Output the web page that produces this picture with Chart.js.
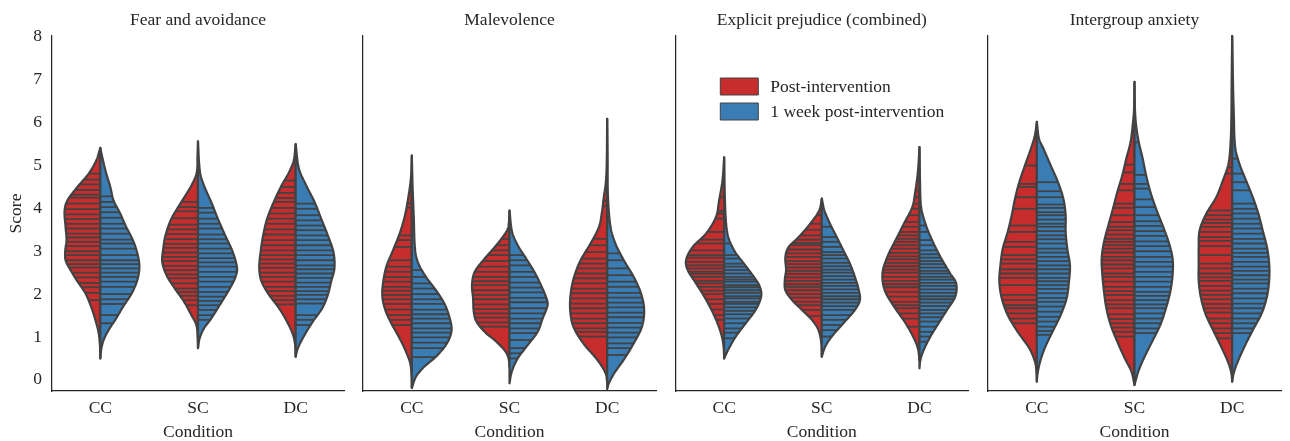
<!DOCTYPE html>
<html>
<head>
<meta charset="utf-8">
<script src="https://cdn.jsdelivr.net/npm/chart.js@4/dist/chart.umd.min.js"></script>
<style>
  body { margin: 0; background: #fff; }
  #wrap { position: relative; width: 1290px; height: 441px; }
  #wrap canvas { position: absolute; left: 0; top: 0; }
</style>
</head>
<body>
<div id="wrap">
  <canvas id="p0" width="1290" height="441"></canvas>
  <canvas id="p1" width="1290" height="441"></canvas>
  <canvas id="p2" width="1290" height="441"></canvas>
  <canvas id="p3" width="1290" height="441"></canvas>
</div>
<script>
let panelTitles = ['Fear and avoidance', 'Malevolence', 'Explicit prejudice (combined)', 'Intergroup anxiety']
let conditions = ['CC', 'SC', 'DC']
let seriesNames = ['Post-intervention', '1 week post-intervention']
let yTicks = [0, 1, 2, 3, 4, 5, 6, 7, 8]

// violin outlines: [score, half width in category units], one list per condition
let fearPostShape = [
  [[5.41,0],[5.12,0.041],[4.81,0.119],[4.5,0.234],[4.19,0.336],[3.95,0.366],[3.57,0.356],[3.26,0.346],[3.02,0.359],[2.79,0.356],[2.56,0.305],[2.33,0.244],[2.02,0.153],[1.71,0.095],[1.4,0.051],[1.09,0.017],[0.8,0.004],[0.5,0]],
  [[5.56,0],[5.2,0.005],[4.84,0.012],[4.53,0.068],[4.15,0.17],[3.76,0.272],[3.37,0.333],[3.06,0.356],[2.75,0.366],[2.44,0.322],[2.13,0.237],[1.82,0.142],[1.51,0.068],[1.28,0.017],[1.0,0.004],[0.74,0]],
  [[5.5,0],[5.12,0.02],[4.84,0.068],[4.53,0.145],[4.15,0.224],[3.76,0.292],[3.37,0.333],[2.98,0.359],[2.6,0.373],[2.29,0.349],[1.98,0.272],[1.67,0.17],[1.36,0.089],[1.05,0.027],[0.8,0.005],[0.54,0]]
]
let fearWeekShape = [
  [[5.41,0],[5.12,0.027],[4.81,0.061],[4.5,0.102],[4.19,0.135],[3.88,0.203],[3.57,0.264],[3.26,0.333],[2.95,0.379],[2.64,0.4],[2.33,0.379],[2.02,0.322],[1.71,0.234],[1.4,0.153],[1.16,0.084],[0.93,0.034],[0.7,0.008],[0.5,0]],
  [[5.56,0],[5.1,0.01],[4.77,0.027],[4.46,0.074],[4.15,0.135],[3.76,0.203],[3.37,0.278],[2.98,0.356],[2.6,0.4],[2.37,0.379],[2.05,0.305],[1.74,0.221],[1.43,0.135],[1.2,0.061],[0.97,0.017],[0.74,0]],
  [[5.5,0],[4.92,0.034],[4.53,0.109],[4.15,0.193],[3.76,0.261],[3.37,0.329],[2.98,0.387],[2.6,0.397],[2.29,0.363],[1.98,0.329],[1.67,0.272],[1.36,0.176],[1.05,0.092],[0.74,0.023],[0.54,0]]
]
let fearPostSticks = [
  [4.81,4.67,4.56,4.43,4.32,4.25,4.11,3.98,3.86,3.75,3.64,3.53,3.41,3.32,3.22,3.12,3.0,2.91,2.79,2.7,2.62,2.5,2.39,2.26,2.16,2.03,1.86],
  [4.15,4.03,3.93,3.77,3.62,3.51,3.4,3.28,3.17,3.08,2.97,2.87,2.77,2.66,2.56,2.46,2.37,2.25,2.13,2.05,1.96,1.86,1.74],
  [4.65,4.5,4.36,4.24,4.15,4.01,3.88,3.76,3.64,3.51,3.39,3.26,3.14,3.02,2.91,2.81,2.71,2.61,2.5,2.4,2.29,2.17,2.07,1.96,1.86,1.76]
]
let fearWeekSticks = [
  [4.28,4.15,4.03,3.91,3.78,3.64,3.53,3.41,3.27,3.18,3.06,2.91,2.79,2.7,2.6,2.5,2.4,2.29,2.17,2.0,1.88,1.77,1.51,1.32],
  [4.01,3.9,3.76,3.64,3.53,3.39,3.28,3.18,3.06,2.95,2.84,2.74,2.64,2.52,2.4,2.29,2.17,2.05,1.94,1.84,1.74,1.63,1.51,1.4],
  [4.11,3.99,3.84,3.72,3.6,3.49,3.37,3.26,3.14,3.02,2.91,2.79,2.67,2.58,2.48,2.38,2.27,2.17,2.07,1.98,1.88,1.78,1.51,1.4,1.28]
]

let malPostShape = [
  [[5.23,0],[4.69,0.01],[4.19,0.041],[3.8,0.074],[3.41,0.125],[3.02,0.193],[2.64,0.261],[2.25,0.295],[1.94,0.302],[1.63,0.272],[1.32,0.211],[1.01,0.135],[0.7,0.068],[0.39,0.017],[0.1,0.003],[-0.19,0]],
  [[3.95,0],[3.6,0.01],[3.45,0.034],[3.14,0.135],[2.83,0.254],[2.52,0.356],[2.21,0.384],[1.9,0.373],[1.59,0.366],[1.36,0.339],[1.12,0.254],[0.89,0.135],[0.66,0.041],[0.5,0.01],[0.3,0]],
  [[6.09,0],[5.0,0.005],[4.57,0.015],[4.26,0.035],[3.95,0.051],[3.57,0.084],[3.18,0.17],[2.79,0.272],[2.4,0.339],[2.02,0.373],[1.63,0.379],[1.24,0.346],[0.85,0.244],[0.47,0.102],[0.16,0.017],[-0.05,0]]
]
let malWeekShape = [
  [[5.23,0],[4.5,0.008],[3.8,0.02],[3.02,0.034],[2.71,0.068],[2.4,0.145],[2.09,0.247],[1.78,0.333],[1.47,0.384],[1.16,0.407],[0.85,0.359],[0.54,0.247],[0.31,0.129],[0.08,0.044],[-0.19,0]],
  [[3.95,0],[3.45,0.027],[3.14,0.084],[2.83,0.17],[2.52,0.254],[2.21,0.322],[1.9,0.379],[1.74,0.39],[1.43,0.339],[1.12,0.288],[0.81,0.186],[0.5,0.084],[0.19,0.023],[-0.08,0]],
  [[6.09,0],[5.2,0.004],[4.34,0.007],[3.57,0.034],[3.18,0.084],[2.79,0.17],[2.4,0.272],[2.02,0.346],[1.63,0.379],[1.24,0.356],[0.85,0.272],[0.47,0.17],[0.16,0.074],[-0.08,0.017],[-0.22,0]]
]
let malPostSticks = [
  [4.38,4.12,4.02,3.37,3.26,3.1,2.79,2.64,2.52,2.4,2.29,2.17,2.08,1.98,1.88,1.77,1.64,1.51,1.4,1.28],
  [3.29,3.14,3.02,2.91,2.77,2.64,2.52,2.4,2.3,2.21,2.09,1.98,1.88,1.76,1.65,1.55,1.45,1.34,1.24],
  [4.17,4.05,3.29,3.14,2.98,2.83,2.71,2.6,2.48,2.37,2.25,2.13,2.02,1.9,1.78,1.67,1.55,1.43,1.32,1.2,1.12,1.01]
]
let malWeekSticks = [
  [2.56,2.4,2.25,2.13,2.0,1.88,1.77,1.64,1.53,1.43,1.32,1.2,1.1,0.99,0.87,0.74,0.53],
  [2.91,2.79,2.67,2.52,2.4,2.27,2.15,2.04,1.91,1.81,1.67,1.55,1.43,1.32,1.2,1.09,0.93,0.74,0.62,0.5],
  [3.68,2.95,2.79,2.6,2.44,2.29,2.17,2.03,1.92,1.8,1.69,1.57,1.46,1.33,1.22,1.1,0.99,0.85,0.74,0.58]
]

let explPostShape = [
  [[5.19,0],[4.65,0.017],[4.19,0.051],[3.8,0.084],[3.41,0.186],[3.1,0.322],[2.79,0.39],[2.56,0.373],[2.25,0.288],[1.94,0.203],[1.63,0.129],[1.32,0.068],[1.01,0.023],[0.75,0.005],[0.5,0]],
  [[4.23,0],[3.95,0.027],[3.64,0.119],[3.33,0.237],[3.1,0.339],[2.87,0.373],[2.56,0.366],[2.33,0.379],[2.09,0.373],[1.86,0.305],[1.63,0.203],[1.4,0.102],[1.16,0.034],[0.85,0.005],[0.54,0]],
  [[5.43,0],[4.88,0.015],[4.42,0.041],[4.03,0.074],[3.64,0.16],[3.26,0.244],[2.87,0.329],[2.48,0.379],[2.09,0.356],[1.71,0.261],[1.32,0.142],[0.93,0.048],[0.7,0.013],[0.45,0]]
]
let explWeekShape = [
  [[5.19,0],[4.2,0.008],[3.41,0.034],[3.02,0.102],[2.71,0.203],[2.4,0.305],[2.17,0.366],[1.94,0.379],[1.63,0.322],[1.32,0.221],[1.01,0.119],[0.7,0.041],[0.5,0]],
  [[4.23,0],[3.95,0.027],[3.64,0.084],[3.33,0.153],[3.02,0.221],[2.71,0.288],[2.4,0.339],[2.09,0.379],[1.86,0.39],[1.63,0.339],[1.32,0.221],[1.01,0.102],[0.77,0.034],[0.54,0]],
  [[5.43,0],[4.6,0.006],[4.03,0.017],[3.64,0.061],[3.26,0.129],[2.87,0.214],[2.48,0.315],[2.25,0.376],[1.94,0.366],[1.63,0.282],[1.32,0.196],[1.01,0.112],[0.7,0.044],[0.47,0.01],[0.27,0]]
]
let explPostSticks = [
  [4.61,4.26,3.94,3.88,3.76,3.45,3.27,3.18,3.02,2.91,2.85,2.75,2.67,2.6,2.52,2.47,2.4,2.31,2.25,2.17,2.08,2.0,1.88,1.77,1.64,1.51,1.4],
  [3.84,3.64,3.5,3.37,3.27,3.19,3.14,3.04,2.95,2.87,2.77,2.7,2.62,2.54,2.47,2.39,2.31,2.23,2.17,2.09,2.0,1.92,1.82,1.74,1.63,1.49],
  [4.42,4.26,4.11,3.99,3.84,3.68,3.57,3.45,3.37,3.29,3.22,3.14,3.06,2.96,2.88,2.81,2.73,2.65,2.57,2.5,2.4,2.31,2.23,2.16,2.05,1.94,1.82,1.74,1.67,1.55,1.43,1.24]
]
let explWeekSticks = [
  [3.18,2.91,2.83,2.71,2.64,2.56,2.48,2.4,2.34,2.29,2.21,2.16,2.09,2.03,1.95,1.9,1.82,1.77,1.69,1.61,1.53,1.43,1.32,1.2,1.1,0.97],
  [3.57,3.33,3.22,3.1,2.98,2.91,2.83,2.73,2.65,2.57,2.5,2.42,2.34,2.26,2.19,2.11,2.03,1.95,1.88,1.8,1.72,1.63,1.51,1.4,1.28,1.16,1.01],
  [3.6,3.45,3.26,3.14,3.02,2.93,2.85,2.77,2.7,2.62,2.54,2.48,2.4,2.34,2.26,2.19,2.11,2.03,1.95,1.88,1.8,1.72,1.63,1.55,1.46,1.36,1.24,1.12,1.01,0.89]
]

let anxPostShape = [
  [[6.02,0],[5.7,0.02],[5.39,0.061],[5.0,0.122],[4.61,0.18],[4.22,0.224],[3.84,0.257],[3.45,0.298],[3.06,0.349],[2.67,0.373],[2.29,0.384],[1.9,0.359],[1.51,0.298],[1.12,0.196],[0.74,0.078],[0.43,0.02],[0.2,0.004],[-0.04,0]],
  [[6.95,0],[6.3,0.005],[6.01,0.015],[5.54,0.041],[5.16,0.084],[4.77,0.125],[4.38,0.176],[3.99,0.221],[3.6,0.268],[3.22,0.312],[2.83,0.336],[2.44,0.329],[2.05,0.312],[1.67,0.288],[1.28,0.244],[0.89,0.176],[0.5,0.099],[0.19,0.031],[-0.12,0]],
  [[8.02,0],[7.0,0.005],[6.2,0.008],[5.58,0.015],[5.04,0.038],[4.65,0.095],[4.26,0.163],[3.88,0.264],[3.49,0.333],[3.1,0.343],[2.71,0.343],[2.33,0.343],[1.94,0.322],[1.55,0.275],[1.16,0.196],[0.77,0.112],[0.39,0.038],[0.15,0.008],[-0.04,0]]
]
let anxWeekShape = [
  [[6.02,0],[5.62,0.023],[5.39,0.068],[5.0,0.142],[4.61,0.217],[4.22,0.272],[3.84,0.295],[3.45,0.295],[3.06,0.312],[2.67,0.339],[2.29,0.329],[1.9,0.305],[1.51,0.244],[1.12,0.16],[0.74,0.081],[0.43,0.034],[0.15,0.008],[-0.04,0]],
  [[6.95,0],[6.3,0.005],[5.93,0.017],[5.54,0.044],[5.16,0.084],[4.77,0.119],[4.38,0.163],[3.99,0.221],[3.6,0.288],[3.22,0.349],[2.83,0.39],[2.44,0.39],[2.05,0.366],[1.67,0.322],[1.28,0.264],[0.89,0.18],[0.5,0.095],[0.19,0.038],[-0.12,0]],
  [[8.02,0],[7.0,0.008],[6.2,0.017],[5.43,0.031],[5.04,0.074],[4.65,0.142],[4.26,0.211],[3.88,0.268],[3.49,0.312],[3.1,0.356],[2.71,0.379],[2.33,0.379],[1.94,0.356],[1.55,0.302],[1.16,0.211],[0.77,0.125],[0.39,0.051],[0.15,0.015],[-0.04,0]]
]
let anxPostSticks = [
  [5.0,4.57,4.5,4.26,3.99,3.6,3.45,3.22,3.1,2.91,2.81,2.71,2.58,2.48,2.38,2.21,1.98,1.86,1.74,1.67,1.55,1.43,1.32],
  [5.02,4.84,4.57,4.42,4.11,4.01,3.84,3.68,3.57,3.49,3.39,3.29,3.22,3.14,3.06,2.97,2.87,2.79,2.69,2.6,2.48,2.4,2.29,2.17,2.07,1.98,1.86,1.76,1.67,1.53,1.42,1.32,1.22,1.12,1.01],
  [4.96,4.81,3.95,3.84,3.74,3.66,3.57,3.45,3.33,3.24,3.12,2.91,2.71,2.6,2.48,2.39,2.31,2.19,2.08,1.98,1.88,1.77,1.67,1.57,1.43,1.32,1.2,1.09,0.97]
]
let anxWeekSticks = [
  [4.61,4.4,4.26,4.09,4.01,3.91,3.84,3.74,3.64,3.57,3.47,3.37,3.28,3.18,3.06,2.97,2.87,2.77,2.67,2.58,2.48,2.38,2.3,2.21,2.12,2.02,1.91,1.82,1.71,1.59,1.47,1.36,1.24,1.14,1.05],
  [5.54,4.78,4.57,4.46,4.21,4.03,3.84,3.7,3.59,3.47,3.36,3.23,3.12,3.0,2.87,2.75,2.64,2.52,2.4,2.29,2.17,2.05,1.96,1.86,1.76,1.67,1.55,1.43,1.32,1.2,1.09],
  [5.16,4.81,4.61,4.42,4.11,3.99,3.88,3.76,3.64,3.53,3.41,3.29,3.18,3.06,2.96,2.87,2.75,2.64,2.54,2.44,2.34,2.25,2.13,2.02,1.9,1.78,1.67,1.55,1.43,1.32,1.2,1.09]
]

let postColor = '#c82d2e'
let weekColor = '#3a7db5'
let edgeColor = '#424242'
let textColor = '#262626'
let serif = "'Liberation Serif', 'DejaVu Serif', serif"

let panels = [
  {shapes: [fearPostShape, fearWeekShape], sticks: [fearPostSticks, fearWeekSticks]},
  {shapes: [malPostShape, malWeekShape], sticks: [malPostSticks, malWeekSticks]},
  {shapes: [explPostShape, explWeekShape], sticks: [explPostSticks, explWeekSticks]},
  {shapes: [anxPostShape, anxWeekShape], sticks: [anxPostSticks, anxWeekSticks]}
]

let plotLeft = [51.5, 363, 675.3, 988]
let plotWidth = 293

// smooth a sparse outline (cubic Hermite in score)
function densify(shape) {
  let p = shape.slice().sort((a, b) => b[0] - a[0])
  let slope = i => {
    let a = p[Math.max(i - 1, 0)], b = p[Math.min(i + 1, p.length - 1)]
    return (b[1] - a[1]) / (b[0] - a[0])
  }
  let out = []
  for (let i = 0; i < p.length - 1; i++) {
    let s1 = p[i][0], s2 = p[i + 1][0], w1 = p[i][1], w2 = p[i + 1][1], h = s2 - s1
    let m1 = slope(i), m2 = slope(i + 1)
    for (let k = 0; k < 10; k++) {
      let t = k / 10, t2 = t * t, t3 = t2 * t
      let w = (2*t3 - 3*t2 + 1) * w1 + (t3 - 2*t2 + t) * h * m1 + (-2*t3 + 3*t2) * w2 + (t3 - t2) * h * m2
      out.push([s1 + h * t, Math.max(0, w)])
    }
  }
  out.push(p[p.length - 1])
  return out
}

function widthAt(d, s) {
  for (let i = 0; i < d.length - 1; i++) {
    let a = d[i], b = d[i + 1]
    if (s <= a[0] && s >= b[0]) {
      let t = (a[0] - s) / (a[0] - b[0] || 1)
      return a[1] + (b[1] - a[1]) * t
    }
  }
  return 0
}

let violinPlugin = {
  id: 'violins',
  afterDatasetsDraw(chart, args, opts) {
    let ctx = chart.ctx
    let xs = chart.scales.x, ys = chart.scales.y
    let panel = panels[opts.panel]
    ctx.save()
    conditions.forEach((cond, ci) => {
      [0, 1].forEach(h => {
        let d = densify(panel.shapes[h][ci])
        let dir = h === 0 ? -1 : 1
        let cx = xs.getPixelForValue(ci)
        let outline = () => {
          ctx.beginPath()
          ctx.moveTo(cx, ys.getPixelForValue(d[0][0]))
          d.forEach(pt => ctx.lineTo(xs.getPixelForValue(ci + dir * pt[1]), ys.getPixelForValue(pt[0])))
          ctx.lineTo(cx, ys.getPixelForValue(d[d.length - 1][0]))
          ctx.closePath()
        }
        outline()
        ctx.fillStyle = h === 0 ? postColor : weekColor
        ctx.fill()
        // stick lines, one per observation
        ctx.strokeStyle = edgeColor
        ctx.lineWidth = 1.8
        panel.sticks[h][ci].forEach(v => {
          let w = widthAt(d, v)
          let y = ys.getPixelForValue(v)
          ctx.beginPath()
          ctx.moveTo(cx, y)
          ctx.lineTo(xs.getPixelForValue(ci + dir * w), y)
          ctx.stroke()
        })
        outline()
        ctx.lineWidth = 2.2
        ctx.lineJoin = 'round'
        ctx.stroke()
      })
    })
    if (opts.legend) {
      let a = chart.chartArea
      seriesNames.forEach((name, i) => {
        let bx = a.left + 45, by = a.top + 42 + i * 25
        ctx.fillStyle = i === 0 ? postColor : weekColor
        ctx.fillRect(bx, by, 38, 17)
        ctx.strokeStyle = edgeColor
        ctx.lineWidth = 1
        ctx.strokeRect(bx, by, 38, 17)
        ctx.fillStyle = textColor
        ctx.font = '17.5px ' + serif
        ctx.textBaseline = 'middle'
        ctx.textAlign = 'left'
        ctx.fillText(name, bx + 50, by + 9)
      })
    }
    ctx.restore()
  }
}

Chart.defaults.font.family = serif
Chart.defaults.font.size = 17.5
Chart.defaults.color = textColor

panels.forEach((p, i) => {
  let yW = i === 0 ? 51.5 : 0
  new Chart(document.getElementById('p' + i).getContext('2d'), {
    type: 'scatter',
    data: { datasets: [] },
    plugins: [violinPlugin],
    options: {
      responsive: false,
      animation: false,
      layout: { padding: { left: plotLeft[i] - yW, right: 1290 - plotLeft[i] - plotWidth, top: 0, bottom: 0 } },
      plugins: {
        legend: { display: false },
        tooltip: { enabled: false },
        title: {
          display: true, text: panelTitles[i], fullSize: false, color: textColor,
          font: { size: 17.5, weight: 'normal' }, padding: { top: 9.5, bottom: 5.5 }
        },
        violins: { panel: i, legend: i === 2 }
      },
      scales: {
        x: {
          type: 'linear', min: -0.5, max: 2.5,
          afterBuildTicks: s => { s.ticks = conditions.map((c, k) => ({ value: k })) },
          afterFit: s => { s.height = 50 },
          ticks: { callback: v => conditions[v], padding: 6.5, maxRotation: 0 },
          grid: { display: false, drawTicks: false },
          border: { display: true, color: textColor, width: 1.25 },
          title: { display: true, text: 'Condition', font: { size: 17.5, lineHeight: 1 }, padding: { top: 0, bottom: 0.3 } }
        },
        y: {
          type: 'linear', min: -0.26, max: 8.02,
          afterBuildTicks: s => { s.ticks = yTicks.map(v => ({ value: v })) },
          afterFit: s => { s.width = yW },
          ticks: { display: i === 0, padding: 9.5 },
          grid: { display: false, drawTicks: false },
          border: { display: true, color: textColor, width: 1.25 },
          title: { display: i === 0, text: 'Score', font: { size: 17.5, lineHeight: 1 }, padding: { top: 7.3, bottom: 0 } }
        }
      }
    }
  })
})
</script>
</body>
</html>
